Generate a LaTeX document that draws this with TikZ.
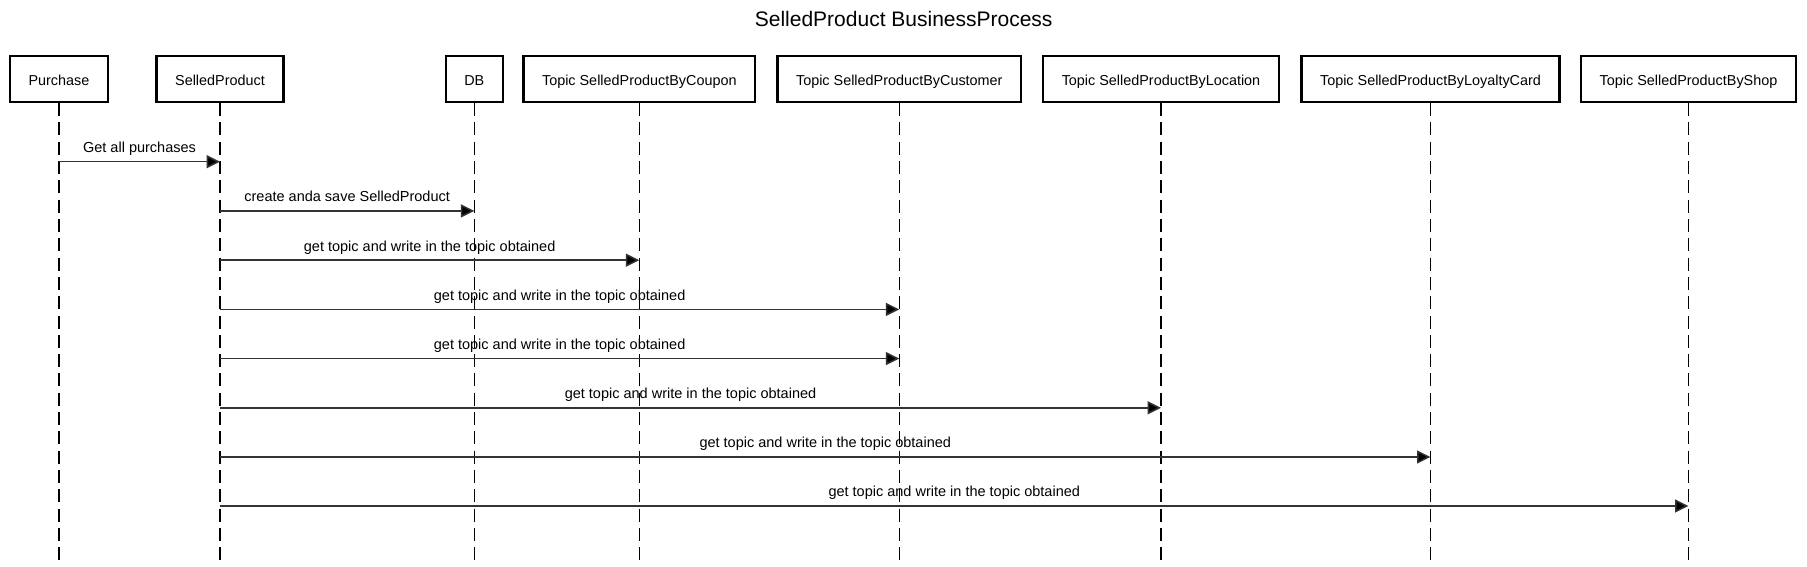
\documentclass[tikz,border=0pt]{standalone}
\usepackage{fontspec}
\setmainfont{Liberation Sans}
\usetikzlibrary{arrows.meta,positioning}
\tikzset{
  actor/.style={ % participant box on top of a lifeline
    draw, rectangle, line width=2.4pt, fill=white,
    minimum height=46pt, inner xsep=18.5pt,
    text height=13pt, text depth=0pt, text=black,
    font=\fontsize{14.4}{17}\selectfont
  },
  lifeline/.style={ % dashed line below a participant
    line width=1.1pt, dash pattern=on 13pt off 6.3pt
  },
  msg/.style={ % synchronous message
    line width=1.5pt, draw=black!80,
    -{Triangle[length=13.5pt,width=13pt,fill=black]}
  },
  msglabel/.style={
    above=5.3pt, inner sep=0pt, text height=10.5pt, text depth=3pt,
    font=\fontsize{14.5}{17}\selectfont, text=black
  }
}

\begin{document}
\begin{tikzpicture}[x=1pt, y=-1pt]
    \useasboundingbox (0,0) rectangle (1807,567);

    \node (title)[anchor=base, font=\fontsize{21}{25}\selectfont] at (903.7,26.7) {SelledProduct BusinessProcess};

    \node[actor] (purchase) at (59,79) {Purchase};
    \node[actor] (selled) at (220,79) {SelledProduct};
    \node[actor] (db) at (474.3,79) {DB};
    \node[actor] (coupon) at (639.3,79) {Topic SelledProductByCoupon};
    \node[actor] (customer) at (899.3,79) {Topic SelledProductByCustomer};
    \node[actor] (location) at (1161,79) {Topic SelledProductByLocation};
    \node[actor] (loyalty) at (1430.5,79) {Topic SelledProductByLoyaltyCard};
    \node[actor] (shop) at (1688.5,79) {Topic SelledProductByShop};

    \foreach \n in {purchase,selled,db,coupon,customer,location,loyalty,shop}
      \draw[lifeline] (\n.south) -- (\n.south |- 0,563);

    \draw[msg] (purchase.south |- 0,161.7) -- node[msglabel] (m1_label) {Get all purchases} (selled.south |- 0,161.7);
    \draw[msg] (selled.south |- 0,210.9) -- node[msglabel] (m2_label) {create anda save SelledProduct} (db.south |- 0,210.9);
    \draw[msg] (selled.south |- 0,260.2) -- node[msglabel] (m3_label) {get topic and write in the topic obtained} (coupon.south |- 0,260.2);
    \draw[msg] (selled.south |- 0,309.4) -- node[msglabel] (m4_label) {get topic and write in the topic obtained} (customer.south |- 0,309.4);
    \draw[msg] (selled.south |- 0,358.6) -- node[msglabel] (m5_label) {get topic and write in the topic obtained} (customer.south |- 0,358.6);
    \draw[msg] (selled.south |- 0,407.8) -- node[msglabel] (m6_label) {get topic and write in the topic obtained} (location.south |- 0,407.8);
    \draw[msg] (selled.south |- 0,457) -- node[msglabel] (m7_label) {get topic and write in the topic obtained} (loyalty.south |- 0,457);
    \draw[msg] (selled.south |- 0,506) -- node[msglabel] (m8_label) {get topic and write in the topic obtained} (shop.south |- 0,506);
\end{tikzpicture}
\end{document}
